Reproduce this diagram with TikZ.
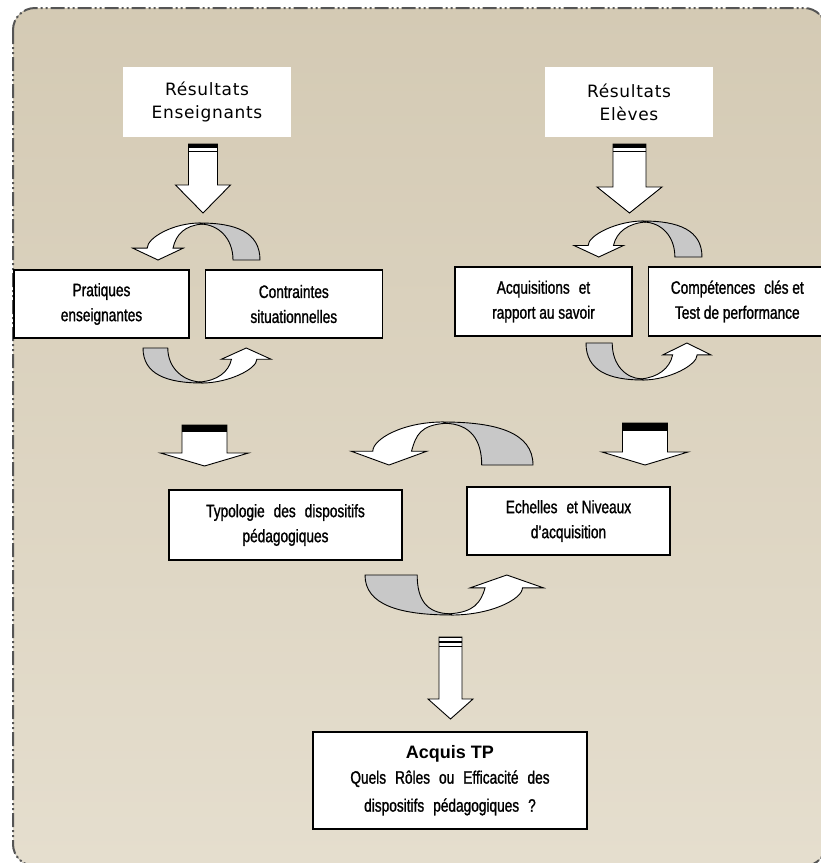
\documentclass[tikz,border=0pt]{standalone}
\usepackage{fontspec}
\setmainfont{Liberation Sans}
\newfontfamily\titlefont[LetterSpace=4]{DejaVu Sans}
\newfontfamily\boxfont[FakeStretch=0.76,FakeBold=1.2]{Liberation Sans}
\usetikzlibrary{positioning}

\definecolor{linendark}{RGB}{212,202,180}
\definecolor{linenlight}{RGB}{229,222,206}
\definecolor{framegray}{RGB}{85,85,85}
\definecolor{backgray}{RGB}{200,200,200}

% twisted circular arrow: center, rx, ry, rotation, inner ratio, head position
\newcommand{\twistarrow}[6]{%
  \begin{scope}[shift={#1},rotate=#4,x=#2pt,y=#3pt,line width=0.9pt]
    \filldraw[fill=backgray] (#5,0) -- (1,0) .. controls (1,0.75) and (0.6,1) .. (0,1)
      -- (0.03,0.97) .. controls (0.3,0.95) and (#5,0.6) .. (#5,0) -- cycle;
    \filldraw[fill=white] (0,1) .. controls (-0.45,1) and ({#6-0.18},0.6) .. ({#6-0.18},0.32)
      -- ({#6-0.42},0.32) -- (#6,0) -- ({#6+0.42},0.32) -- ({#6+0.25},0.32)
      .. controls ({#6+0.3},0.7) and (-0.25,0.93) .. (0.03,0.97) -- cycle;
  \end{scope}}

% down block arrow: x, top, head start, tip, shaft half width, head half width
\newcommand{\blockdown}[6]{%
  \filldraw[fill=white,line width=0.9pt] ({#1-#5},#2) -- ({#1-#5},#3) -- ({#1-#6},#3)
    -- (#1,#4) -- ({#1+#6},#3) -- ({#1+#5},#3) -- ({#1+#5},#2) -- cycle;}

\begin{document}
\begin{tikzpicture}[x=1pt,y=-1pt,
  topbox/.style={fill=white,minimum width=168pt,minimum height=70pt,align=center,
    inner sep=0pt,font=\titlefont\fontsize{17}{23}\selectfont},
  box/.style={draw,fill=white,line width=1.3pt,align=center,inner sep=0pt,
    font=\boxfont\fontsize{18}{25}\selectfont}]

  \useasboundingbox (0,0) rectangle (821,863);
  \filldraw[top color=linendark,bottom color=linenlight,draw=framegray,line width=2pt,
    dash pattern=on 14pt off 3pt on 2pt off 3pt on 2pt off 3pt,rounded corners=22pt]
    (13,8) rectangle (826,866);

  \node[topbox] (resens) at (207,102) {Résultats\\Enseignants};
  \node[topbox] (reselv) at (629,102) {Résultats\\Elèves};

  \node[box,minimum width=175pt,minimum height=68pt] (prat) at (101.5,304) {Pratiques\\enseignantes};
  \node[box,minimum width=177pt,minimum height=68pt,right=15pt of prat] (contr) {Contraintes\\situationnelles};
  \node[box,minimum width=177pt,minimum height=69pt] (acq) at (543.5,301.5) {Acquisitions\enspace et\\rapport au savoir};
  \node[box,minimum width=178pt,minimum height=69pt,right=15pt of acq] (comp) {Compétences\enspace clés et\\Test de performance};
  \node[box,minimum width=233pt,minimum height=70pt] (typo) at (285.5,525) {Typologie\enspace des\enspace dispositifs\\pédagogiques};
  \node[box,minimum width=203pt,minimum height=68pt] (ech) at (568.5,521) {Echelles\enspace et Niveaux\\d’acquisition};
  \node[box,minimum width=274pt,minimum height=97pt] (acqtp) at (450,780.5)
    {{\rmfamily\bfseries\fontsize{18}{24}\selectfont Acquis TP}\\Quels\enspace Rôles\enspace ou\enspace Efficacité\enspace des\\[3pt]dispositifs\enspace pédagogiques\enspace ?};

  % block arrows
  \blockdown{203}{144}{185}{213}{14.5}{27.5}
  \fill (188.5,144) rectangle (217.5,148);
  \draw (188.5,151) -- (217.5,151);
  \blockdown{629.5}{144}{187}{213}{16.5}{32.5}
  \fill (613,144) rectangle (646,148);
  \draw (613,151) -- (646,151);
  \blockdown{204.5}{425}{453}{466}{22.5}{44}
  \fill (182,425) rectangle (227,432);
  \blockdown{645}{423}{452}{465}{22.5}{43}
  \fill (622.5,423) rectangle (667.5,431);
  \blockdown{450.5}{637}{699}{719}{11.5}{22.5}
  \foreach \y in {637.5,642,646.5}
    \draw[line width=1.3pt] (439,\y) -- (462,\y);

  % circular arrows
  \twistarrow{(200,260)}{60}{37}{0}{0.55}{-0.70}
  \twistarrow{(202,348)}{59}{35}{180}{0.58}{-0.75}
  \twistarrow{(643,257)}{59}{36}{0}{0.54}{-0.75}
  \twistarrow{(643,343)}{57}{37}{180}{0.54}{-0.77}
  \twistarrow{(443,465)}{90}{43}{0}{0.43}{-0.60}
  \twistarrow{(452,575)}{87}{40}{180}{0.40}{-0.63}
\end{tikzpicture}
\end{document}
